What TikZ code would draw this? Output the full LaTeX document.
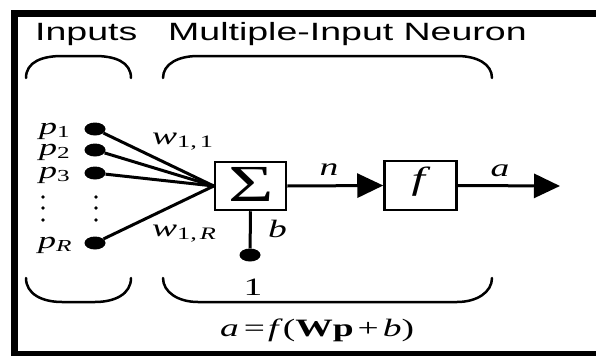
\documentclass[tikz,border=0pt]{standalone}
\usepackage{fontspec}
\setmainfont{Liberation Serif}[FakeStretch=1.5]
\newfontfamily\labsans{Liberation Sans}[FakeStretch=1.5]
\usetikzlibrary{arrows.meta,shapes.geometric}
\begin{document}
\begin{tikzpicture}[x=1pt,y=-1pt,
  lab/.style={inner sep=0pt, anchor=base west, font=\fontsize{25}{30}\selectfont},
  plab/.style={inner sep=0pt, anchor=base west, font=\fontsize{24}{28}\selectfont},
  title/.style={inner sep=0pt, anchor=base west, font=\labsans\fontsize{25}{30}\selectfont},
  indot/.style={ellipse, fill=black, minimum width=21pt, minimum height=13pt, inner sep=0pt},
  conn/.style={line width=3pt},
  brace/.style={line width=2.5pt, line cap=round},
  blk/.style={draw, line width=2.5pt, minimum width=71pt, minimum height=48pt, inner sep=0pt},
  arr/.style={line width=3pt, -{Triangle[length=26pt,width=24pt]}}]
\useasboundingbox (0,0) rectangle (596,356);
% frame
\fill (11,10) rectangle (596,17);
\fill (11,10) rectangle (18,356);
\fill (11,351) rectangle (596,356);
% titles
\node[title] (tin) at (35,40) {Inputs};
\node[title] (tneu) at (168,40) {Multiple-Input Neuron};
% braces
\draw[brace] (26,78) .. controls (26,62) and (42,56) .. (62,56) -- (95,56) .. controls (115,56) and (131,62) .. (131,78);
\draw[brace] (163,78) .. controls (163,64) and (178,56) .. (198,56) -- (457,56) .. controls (477,56) and (492,64) .. (492,78);
\draw[brace] (26,278) .. controls (26,294) and (42,302) .. (62,302) -- (95,302) .. controls (115,302) and (131,294) .. (131,278);
\draw[brace] (163,278) .. controls (163,292) and (178,302) .. (198,302) -- (457,302) .. controls (477,302) and (492,292) .. (492,278);
% inputs
\node[plab] (lp1) at (39,134) {\textit{p}\textsubscript{1}};
\node[plab] (lp2) at (39,155) {\textit{p}\textsubscript{2}};
\node[plab] (lp3) at (39,178) {\textit{p}\textsubscript{3}};
\node[plab] (lpR) at (38,248) {\textit{p}\textsubscript{\textit{R}}};
\node[indot] (d1) at (95,129) {};
\node[indot] (d2) at (95,150) {};
\node[indot] (d3) at (95,173) {};
\node[indot] (dR) at (95,243) {};
\foreach \yy in {197,208,220} {
  \fill (43,\yy) circle (1.8pt);
  \fill (96,\yy) circle (1.8pt);
}
% summation block
\node[blk] (sig) at (250.5,186) {};
\node[inner sep=0pt, anchor=base, font=\fontsize{52}{60}\selectfont] (sigsym) at (251,201) {Σ};
\draw[conn] (d1) -- (sig.west);
\draw[conn] (d2) -- (sig.west);
\draw[conn] (d3) -- (sig.west);
\draw[conn] (dR) -- (sig.west);
\node[lab] (w11) at (152,144) {\textit{w}\textsubscript{1,\,1}};
\node[lab] (w1R) at (152,236) {\textit{w}\textsubscript{1,\,\textit{R}}};
% bias
\node[indot] (one) at (250,255) {};
\draw[conn] (sig.south) -- (one);
\node[lab] (lb) at (268,237) {\textit{b}};
\node[lab, anchor=base] (l1) at (253,295) {1};
% transfer block
\node[blk, minimum width=72pt, minimum height=49pt] (fbox) at (420.5,185.5) {};
\node[inner sep=0pt, anchor=base, font=\fontsize{32}{38}\selectfont] (fsym) at (421,189) {\textit{f}};
\draw[arr] (sig.east) -- (fbox.west);
\node[lab, anchor=base] (ln) at (329,175) {\textit{n}};
\coordinate (out) at (560,186);
\draw[arr] (fbox.east) -- (out);
\node[lab, anchor=base] (la) at (500,176) {\textit{a}};
% formula
\node[lab] (form) at (220,336) {\textit{a}\hspace{5pt}=\hspace{3pt}\textit{f}(\textbf{Wp}\hspace{4pt}+\hspace{4pt}\textit{b})};
\end{tikzpicture}
\end{document}
